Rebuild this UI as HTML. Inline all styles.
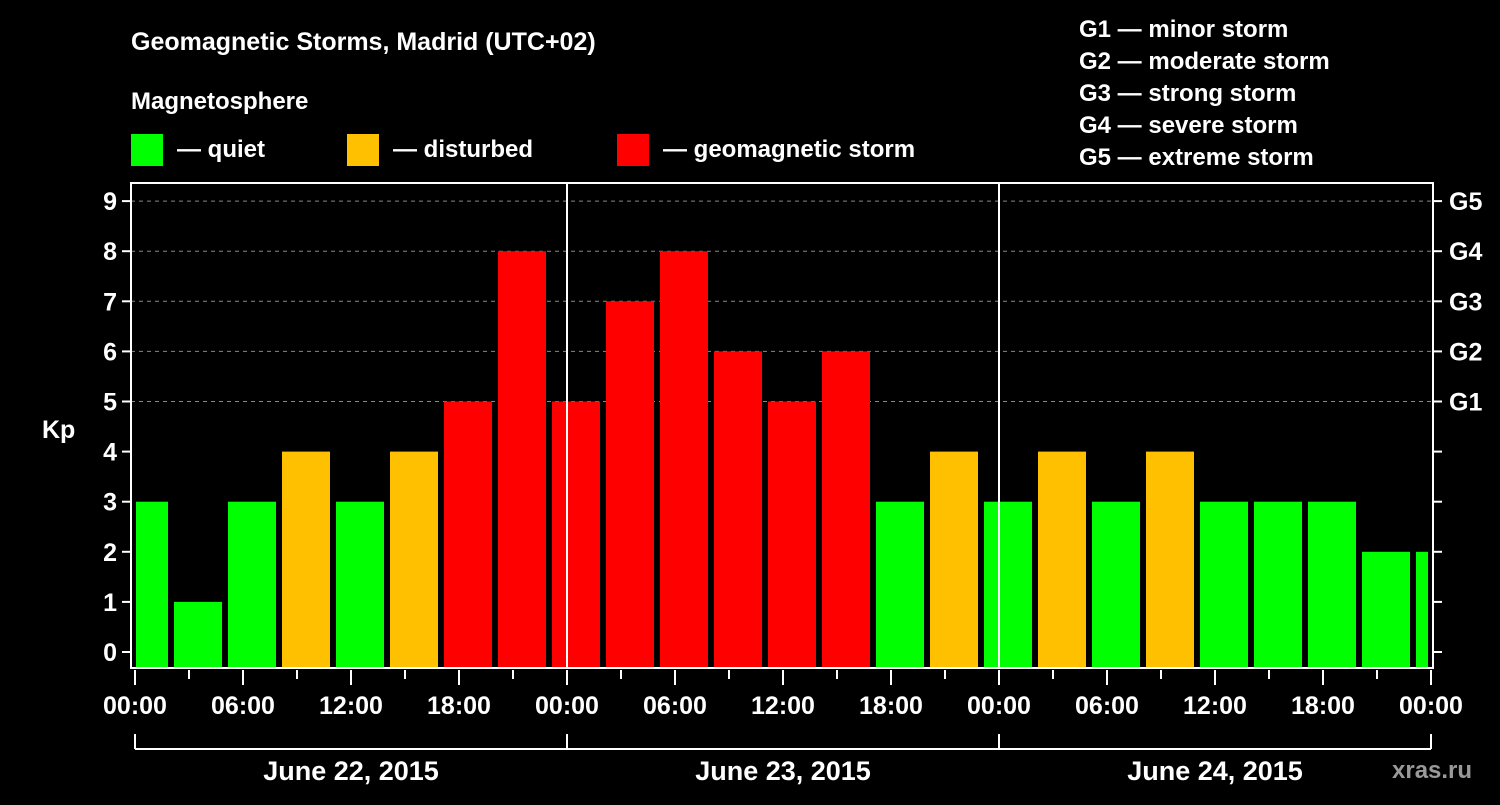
<!DOCTYPE html>
<html><head><meta charset="utf-8"><style>
body{margin:0;background:#000;width:1500px;height:800px;overflow:hidden;font-family:"Liberation Sans",Arial,sans-serif}
svg text{font-family:"Liberation Sans",Arial,sans-serif;font-weight:bold;fill:#fff}
</style></head><body>
<svg id="c" width="1500" height="800">
<text x="131" y="50" font-size="25">Geomagnetic Storms, Madrid (UTC+02)</text>
<text x="131" y="109" font-size="24">Magnetosphere</text>
<rect x="131" y="134" width="32" height="32" fill="#00ff00"/>
<text x="177" y="157" font-size="24">— quiet</text>
<rect x="347" y="134" width="32" height="32" fill="#ffc000"/>
<text x="393" y="157" font-size="24">— disturbed</text>
<rect x="617" y="134" width="32" height="32" fill="#ff0000"/>
<text x="663" y="157" font-size="24">— geomagnetic storm</text>
<g font-size="24">
<text x="1079" y="37">G1 — minor storm</text>
<text x="1079" y="69">G2 — moderate storm</text>
<text x="1079" y="101">G3 — strong storm</text>
<text x="1079" y="133">G4 — severe storm</text>
<text x="1079" y="165">G5 — extreme storm</text>
</g>
<text x="42" y="438" font-size="25">Kp</text>
<text x="1392" y="778" font-size="24" fill="#888" style="fill:#999">xras.ru</text>
<g id="plot"></g>
</svg>
<script>
const kpValues=[3,1,3,4,3,4,5,8,5,7,8,6,5,6,3,4,3,4,3,4,3,3,3,2,2];
const yTicks=[0,1,2,3,4,5,6,7,8,9];
const gLabels=["G1","G2","G3","G4","G5"];
const xTickLabels=["00:00","06:00","12:00","18:00","00:00","06:00","12:00","18:00","00:00","06:00","12:00","18:00","00:00"];
const dayLabels=["June 22, 2015","June 23, 2015","June 24, 2015"];
const NS="http://www.w3.org/2000/svg";
const g=document.getElementById('plot');
const L=131,R=1433,T=183,B=668,X0=135,PXH=18;
const y=v=>652-v*50.1;
const xh=h=>X0+h*PXH;
function el(t,a,p){const e=document.createElementNS(NS,t);for(const k in a)e.setAttribute(k,a[k]);(p||g).appendChild(e);return e;}
// gridlines
for(let v=5;v<=9;v++){const l=el('line',{x1:L,x2:R,y1:y(v),y2:y(v),stroke:'#888','stroke-dasharray':'4,4','stroke-width':1});

}
// bars
kpValues.forEach((v,i)=>{
 let x1=xh(i*3-1)+3,x2=xh(i*3+2)-3;
 x1=Math.max(x1,L+5);x2=Math.min(x2,R-5);
 const c=v>=5?'#ff0000':(v>=4?'#ffc000':'#00ff00');
 const r=el('rect',{x:x1,y:y(v),width:x2-x1,height:B-y(v)-1,fill:c});
 
 
});
// day separators
[1,2].forEach(d=>{const l=el('line',{x1:xh(d*24),x2:xh(d*24),y1:T,y2:B,stroke:'#fff','stroke-width':2});

});
// frame
const f=el('rect',{x:L,y:T,width:R-L,height:B-T,fill:'none',stroke:'#fff','stroke-width':2});


// y ticks
yTicks.forEach(v=>{
 el('line',{x1:L-9,x2:L,y1:y(v),y2:y(v),stroke:'#fff','stroke-width':2});
 el('line',{x1:R,x2:R+9,y1:y(v),y2:y(v),stroke:'#fff','stroke-width':2});
 const t=el('text',{x:L-14,y:y(v)+9,'font-size':25,'text-anchor':'end'});t.textContent=v;
 
 
});
gLabels.forEach((s,i)=>{const t=el('text',{x:R+16,y:y(5+i)+9,'font-size':25});t.textContent=s;
 
 });
// x ticks
for(let h=0;h<=72;h+=3){const long=h%6===0;el('line',{x1:xh(h),x2:xh(h),y1:B+2,y2:B+(long?17:11),stroke:'#fff','stroke-width':2});}
xTickLabels.forEach((s,i)=>{const t=el('text',{x:xh(i*6),y:714,'font-size':25,'text-anchor':'middle'});t.textContent=s;
 
 });
// day bracket
el('line',{x1:xh(0),x2:xh(72),y1:749,y2:749,stroke:'#fff','stroke-width':2});
for(let d=0;d<=3;d++)el('line',{x1:xh(d*24),x2:xh(d*24),y1:734,y2:749,stroke:'#fff','stroke-width':2});
dayLabels.forEach((s,i)=>{const t=el('text',{x:xh(i*24+12),y:780,'font-size':27,'text-anchor':'middle'});t.textContent=s;
 
 });
</script>
</body></html>
